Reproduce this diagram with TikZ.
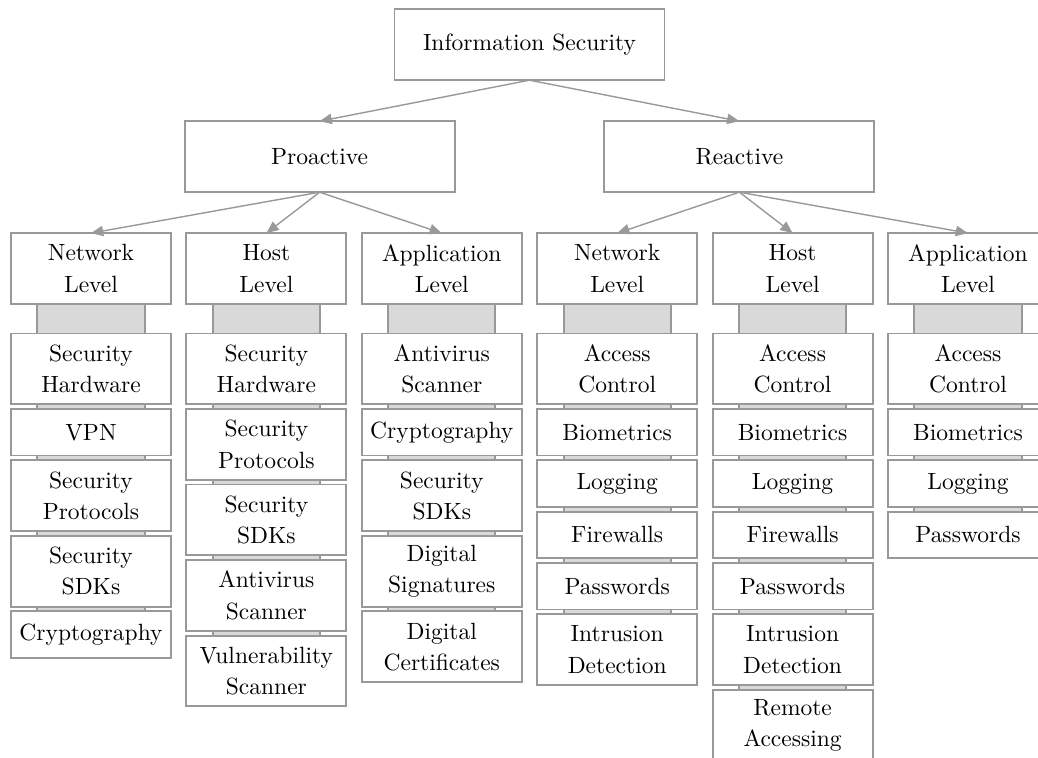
\documentclass[tikz,border=0pt]{standalone}
\usetikzlibrary{positioning,arrows.meta,backgrounds}
\begin{document}
\begin{tikzpicture}[x=0.4255pt,y=-0.4255pt,
  box/.style={draw=gray!80, line width=0.8pt, fill=white, align=center,
    inner sep=1pt, outer sep=0pt, minimum width=68.1pt,
    font=\fontsize{10}{13.3}\selectfont},
  twoline/.style={box, minimum height=30.1pt},
  oneline/.style={box, minimum height=19.8pt},
  headbox/.style={box, minimum width=114.9pt, minimum height=30.2pt},
  link/.style={draw=gray!80, line width=0.6pt, -{Triangle[length=5.2pt,width=4.4pt]}},
  spine/.style={draw=gray!80, line width=0.8pt, fill=gray!30},
  node distance=2.04pt]
\clip (0,0) rectangle (1038,758);
\useasboundingbox (0,0) rectangle (1038,758);

% top levels
\node[headbox] (root) at (529.5,44.7) {Information Security};
\node[headbox] (pro) at (319.6,156.7) {Proactive};
\node[headbox] (rea) at (739.4,156.7) {Reactive};

% level boxes
\node[twoline] (pn) at (91,268.5)    {Network\\Level};
\node[twoline] (ph) at (266.4,268.5) {Host\\Level};
\node[twoline] (pa) at (441.8,268.5) {Application\\Level};
\node[twoline] (rn) at (617.2,268.5) {Network\\Level};
\node[twoline] (rh) at (792.6,268.5) {Host\\Level};
\node[twoline] (ra) at (968,268.5)   {Application\\Level};

% proactive / network level
\node[twoline, below=12.6pt of pn] (pn1) {Security\\Hardware};
\node[oneline, below=of pn1] (pn2) {VPN};
\node[twoline, below=of pn2] (pn3) {Security\\Protocols};
\node[twoline, below=of pn3] (pn4) {Security\\SDKs};
\node[oneline, below=of pn4] (pn5) {Cryptography};

% proactive / host level
\node[twoline, below=12.6pt of ph] (ph1) {Security\\Hardware};
\node[twoline, below=of ph1] (ph2) {Security\\Protocols};
\node[twoline, below=of ph2] (ph3) {Security\\SDKs};
\node[twoline, below=of ph3] (ph4) {Antivirus\\Scanner};
\node[twoline, below=of ph4] (ph5) {Vulnerability\\Scanner};

% proactive / application level
\node[twoline, below=12.6pt of pa] (pa1) {Antivirus\\Scanner};
\node[oneline, below=of pa1] (pa2) {Cryptography};
\node[twoline, below=of pa2] (pa3) {Security\\SDKs};
\node[twoline, below=of pa3] (pa4) {Digital\\Signatures};
\node[twoline, below=of pa4] (pa5) {Digital\\Certificates};

% reactive / network level
\node[twoline, below=12.6pt of rn] (rn1) {Access\\Control};
\node[oneline, below=of rn1] (rn2) {Biometrics};
\node[oneline, below=of rn2] (rn3) {Logging};
\node[oneline, below=of rn3] (rn4) {Firewalls};
\node[oneline, below=of rn4] (rn5) {Passwords};
\node[twoline, below=of rn5] (rn6) {Intrusion\\Detection};

% reactive / host level
\node[twoline, below=12.6pt of rh] (rh1) {Access\\Control};
\node[oneline, below=of rh1] (rh2) {Biometrics};
\node[oneline, below=of rh2] (rh3) {Logging};
\node[oneline, below=of rh3] (rh4) {Firewalls};
\node[oneline, below=of rh4] (rh5) {Passwords};
\node[twoline, below=of rh5] (rh6) {Intrusion\\Detection};
\node[twoline, below=of rh6] (rh7) {Remote\\Accessing};

% reactive / application level
\node[twoline, below=12.6pt of ra] (ra1) {Access\\Control};
\node[oneline, below=of ra1] (ra2) {Biometrics};
\node[oneline, below=of ra2] (ra3) {Logging};
\node[oneline, below=of ra3] (ra4) {Passwords};

% grey spines behind each column
\begin{scope}[on background layer]
  \foreach \top/\last in {pn/pn5, ph/ph5, pa/pa5, rn/rn6, rh/rh7, ra/ra4}
    \draw[spine] ([xshift=-22.8pt]\top.south) rectangle ([xshift=22.8pt]\last.north);
\end{scope}

% connectors
\draw[link] (root.south) -- (pro.north);
\draw[link] (root.south) -- (rea.north);
\foreach \c in {pn, ph, pa} \draw[link] (pro.south) -- (\c.north);
\foreach \c in {rn, rh, ra} \draw[link] (rea.south) -- (\c.north);
\end{tikzpicture}
\end{document}
